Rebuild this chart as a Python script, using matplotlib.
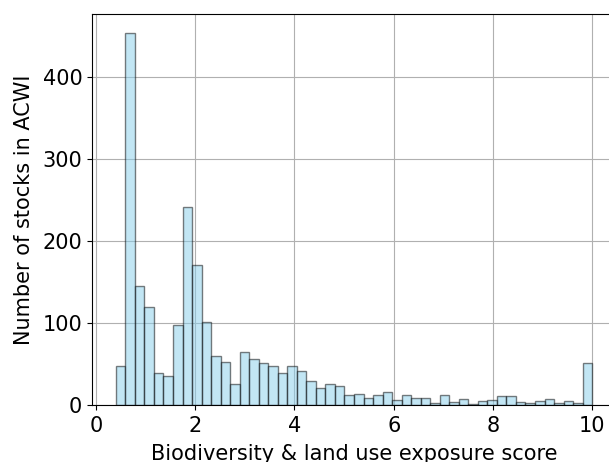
import numpy as np
import matplotlib
matplotlib.use("Agg")
import matplotlib.pyplot as plt

# exposure score range and histogram counts per bin (50 bins)
score_min = 0.4
score_max = 10.0
n_bins = 50
counts = [47, 454, 145, 120, 39, 35, 98, 242, 171, 101,
          60, 53, 25, 65, 56, 51, 47, 39, 47, 41,
          29, 21, 25, 23, 12, 14, 9, 12, 16, 6,
          12, 8, 9, 2, 12, 4, 7, 1, 5, 6,
          11, 11, 4, 2, 5, 7, 2, 5, 3, 51]

edges = np.linspace(score_min, score_max, n_bins + 1)
centers = (edges[:-1] + edges[1:]) / 2

fig = plt.figure(figsize=(6.09, 4.62), dpi=100)
ax = fig.add_axes([0.1511, 0.1234, 0.8604, 0.8463])

ax.hist(centers, bins=edges, weights=counts, color='skyblue',
        edgecolor='black', alpha=0.5)
ax.grid(True)
ax.set_axisbelow(True)

ax.set_xticks([0, 2, 4, 6, 8, 10])
ax.set_yticks([0, 100, 200, 300, 400])
ax.tick_params(labelsize=15)
ax.tick_params(axis='x', pad=4.5)
ax.set_xlabel('Biodiversity & land use exposure score', fontsize=15, labelpad=6)
ax.set_ylabel('Number of stocks in ACWI', fontsize=15, labelpad=6.5)

fig.savefig('out.png', dpi=100)
